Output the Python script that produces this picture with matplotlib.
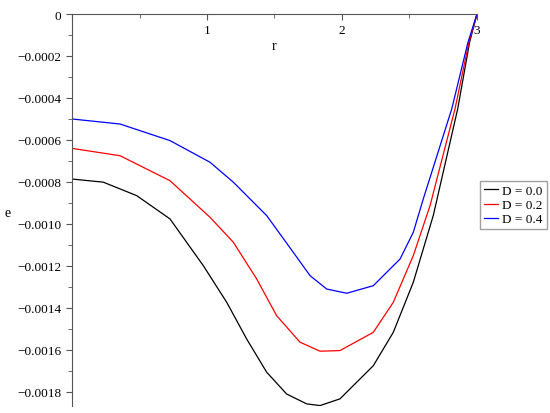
import matplotlib
matplotlib.use("Agg")
import matplotlib.pyplot as plt
from matplotlib.ticker import MultipleLocator, FuncFormatter

# values
r_d0 = [0.0, 0.232, 0.479, 0.726, 0.973, 1.146, 1.294, 1.442, 1.59, 1.739, 1.837, 1.985,
        2.232, 2.38, 2.528, 2.676, 2.857, 2.945, 3.0]
e_d0 = [-0.000786, -0.000801, -0.000865, -0.000976, -0.001199, -0.001373, -0.001548,
        -0.001706, -0.00181, -0.001857, -0.001865, -0.001833, -0.001675, -0.001516,
        -0.001278, -0.00096, -0.000452, -0.000135, 0.0]

r_d2 = [0.0, 0.356, 0.726, 1.022, 1.195, 1.368, 1.516, 1.689, 1.837, 1.985, 2.232, 2.38,
        2.528, 2.652, 2.837, 2.94, 3.0]
e_d2 = [-0.00064, -0.000675, -0.000794, -0.000968, -0.001087, -0.001262, -0.001437,
        -0.001563, -0.001606, -0.001603, -0.001516, -0.001373, -0.001151, -0.000913,
        -0.000452, -0.000135, 0.0]

r_d4 = [0.0, 0.356, 0.726, 1.022, 1.195, 1.442, 1.639, 1.763, 1.887, 2.035, 2.232, 2.43,
        2.528, 2.602, 2.813, 2.933, 3.0]
e_d4 = [-0.0005, -0.000524, -0.000603, -0.000706, -0.000801, -0.00096, -0.001135,
        -0.001246, -0.00131, -0.00133, -0.001294, -0.001167, -0.00104, -0.000881,
        -0.000452, -0.000135, 0.0]

labels = ["D = 0.0", "D = 0.2", "D = 0.4"]
colors = ["black", "red", "blue"]

plt.rcParams["font.family"] = ["Liberation Serif", "DejaVu Serif"]

fig = plt.figure(figsize=(5.5, 4.14), dpi=100)
ax = fig.add_axes([72/550, 1 - 407/414, (477 - 72)/550, (407 - 15)/414])

for r, e, lab, c in zip([r_d0, r_d2, r_d4], [e_d0, e_d2, e_d4], labels, colors):
    ax.plot(r, e, color=c, lw=0.9, label=lab, solid_joinstyle="round")

ax.set_xlim(0, 3)
ax.set_ylim(-0.001867, 0)

# maple-style axes crossing at the origin
ax.spines["bottom"].set_position(("data", 0))
ax.spines["right"].set_visible(False)
ax.spines["top"].set_visible(False)
for s in ("bottom", "left"):
    ax.spines[s].set_color("#555555")
    ax.spines[s].set_linewidth(0.8)

ax.xaxis.set_major_locator(MultipleLocator(1))
ax.xaxis.set_minor_locator(MultipleLocator(0.5))
ax.yaxis.set_major_locator(MultipleLocator(0.0002))
ax.yaxis.set_minor_locator(MultipleLocator(0.0001))
ax.xaxis.set_major_formatter(FuncFormatter(lambda v, p: "" if abs(v) < 1e-9 else f"{v:g}"))
ax.yaxis.set_major_formatter(FuncFormatter(
    lambda v, p: "0" if abs(v) < 1e-12 else "\u2212" + f"{abs(v):.4f}"))
ax.tick_params(which="both", direction="out", color="#555555", labelsize=9.5)
ax.tick_params(which="major", length=4)
ax.tick_params(which="minor", length=3)

ax.text(1.5, -0.00015, "r", ha="center", va="center", fontsize=10)
fig.text(8/550, 1 - 214/414, "e", ha="center", va="center", fontsize=10)

fig.legend(loc="center left", bbox_to_anchor=(480/550, 1 - 206/414), fontsize=9.5,
           frameon=True, fancybox=False, edgecolor="#888888", handlelength=1.1,
           handletextpad=0.3, borderpad=0.3, labelspacing=0.15, borderaxespad=0)

fig.savefig("out.png", dpi=100)
